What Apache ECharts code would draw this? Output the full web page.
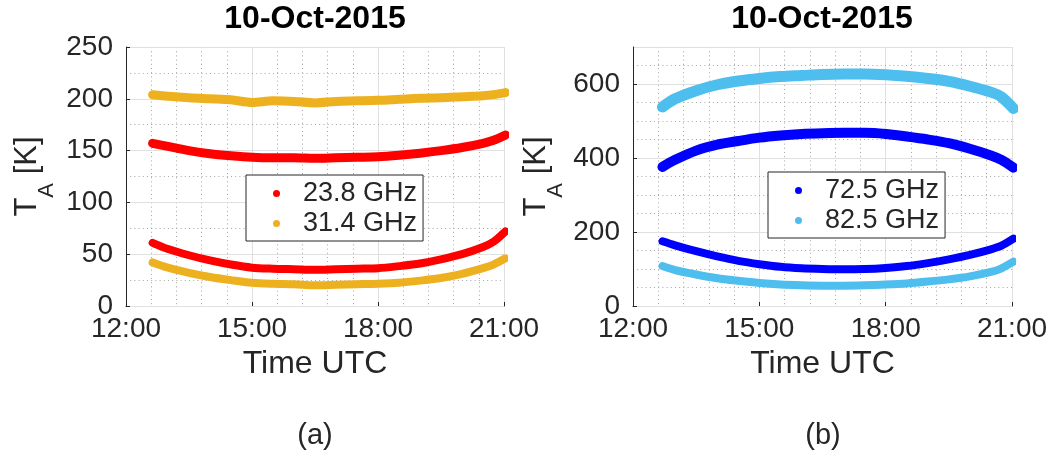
<!DOCTYPE html>
<html>
<head>
<meta charset="utf-8">
<title>10-Oct-2015 antenna temperatures</title>
<script src="https://cdn.jsdelivr.net/npm/echarts@6/dist/echarts.min.js"></script>
<style>
  html, body { margin: 0; padding: 0; background: #ffffff; }
  #chart { width: 1063px; height: 456px; }
</style>
</head>
<body>
<div id="chart"></div>
<script>
// Time-axis tick labels (UTC)
const xTickLabels = ['12:00', '15:00', '18:00', '21:00'];

// Panel (a): K-band channels, sampled along each observation arc
const timesA = ['12:38', '13:00', '13:30', '14:00', '14:30', '15:00', '15:30', '16:00', '16:30',
                '17:00', '17:30', '18:00', '18:30', '19:00', '19:30', '20:00', '20:30', '20:45', '21:02'];
const ta238High = [157, 154, 150, 147, 145, 143.5, 143, 143, 142.5, 143, 143.5, 144, 145.5, 147.5, 150, 153, 157, 160, 165];
const ta238Low  = [61, 55, 49, 44, 40, 37, 36, 35.5, 35, 35.5, 36, 36.5, 38.5, 41, 45, 50, 57, 62, 72];
const ta314High = [204, 202.5, 201, 200, 199, 196.5, 198, 197.5, 196, 197.5, 198, 198.5, 199.5, 200.5, 201, 202, 203, 204, 206];
const ta314Low  = [42, 37, 32, 28, 25, 22.5, 21.5, 21, 20, 20.5, 21, 21.5, 22.5, 24.5, 27, 31, 36.5, 40, 46];

// Panel (b): W-band channels
const timesB = ['12:42', '13:00', '13:30', '14:00', '14:30', '15:00', '15:30', '16:00', '16:30',
                '17:00', '17:30', '18:00', '18:30', '19:00', '19:30', '20:00', '20:30', '20:45', '21:02'];
const ta725High = [376, 395, 420, 436, 446, 455, 461, 465, 467, 468, 468, 465, 458, 450, 440, 425, 407, 395, 374];
const ta725Low  = [175, 164, 148, 134, 122, 113, 106, 102, 100, 99, 100, 103, 108, 116, 126, 138, 153, 163, 182];
const ta825High = [538, 560, 582, 598, 608, 615, 620, 623, 626, 627, 627, 625, 621, 615, 607, 594, 578, 565, 534];
const ta825Low  = [108, 97, 85, 75, 68, 62, 58, 56, 55, 55, 56, 58, 61, 66, 72, 80, 92, 102, 120];

const chartTitle = '10-Oct-2015';
const panelLabels = ['(a)', '(b)'];

const FONT = '"Liberation Sans", Arial, Helvetica, sans-serif';
const INK = '#262626';
const COLORS = { c238: '#ff0000', c314: '#edb120', c725: '#0000ff', c825: '#4dbeee' };

function toHours(s) {
  const p = s.split(':').map(Number);
  return p[0] + p[1] / 60;
}
function hourLabel(v) {
  const h = Math.floor(v + 1e-9);
  const m = Math.round((v - h) * 60);
  return h + ':' + (m < 10 ? '0' + m : m);
}
function pairs(times, vals) {
  return times.map((t, i) => [toHours(t), vals[i]]);
}
function band(name, color, times, vals, axis, width) {
  return {
    type: 'line', name: name, xAxisIndex: axis, yAxisIndex: axis,
    data: pairs(times, vals),
    symbol: 'none', showSymbol: false, smooth: 0.3, clip: false, silent: true,
    itemStyle: { color: color },
    lineStyle: { color: color, width: width, cap: 'round', join: 'round' },
    z: 5
  };
}

const xMin = toHours(xTickLabels[0]);
const xMax = toHours(xTickLabels[xTickLabels.length - 1]);

function timeAxis(gridIndex) {
  return {
    type: 'value', gridIndex: gridIndex, min: xMin, max: xMax, interval: 3,
    name: 'Time UTC', nameLocation: 'middle', nameGap: 42, nameMoveOverlap: false,
    nameTextStyle: { fontFamily: FONT, fontSize: 32, color: INK },
    axisLine: { show: true, lineStyle: { color: INK, width: 1 } },
    axisTick: { show: true, inside: true, length: 4, lineStyle: { color: INK } },
    axisLabel: { fontFamily: FONT, fontSize: 28, color: INK, margin: 9, formatter: hourLabel },
    splitLine: { show: true, lineStyle: { color: '#e0e0e0', width: 1 } },
    minorTick: { show: false, splitNumber: 5 },
    minorSplitLine: { show: true, lineStyle: { color: '#a6a6a6', width: 1, type: [1, 3.2] } }
  };
}

// "T" with a lowered subscript "A", then the unit
const yName = '{t|T}{s|A}{t| [K]}';
const yNameStyle = {
  fontFamily: FONT, color: INK,
  rich: {
    t: { fontFamily: FONT, fontSize: 31, color: INK, lineHeight: 46, verticalAlign: 'top' },
    s: { fontFamily: FONT, fontSize: 22, color: INK, lineHeight: 46, verticalAlign: 'bottom' }
  }
};

function tempAxis(gridIndex, max, interval, minorSplit, gap) {
  return {
    type: 'value', gridIndex: gridIndex, min: 0, max: max, interval: interval,
    name: yName, nameLocation: 'middle', nameGap: gap, nameRotate: 90, nameMoveOverlap: false,
    nameTextStyle: yNameStyle,
    axisLine: { show: true, lineStyle: { color: INK, width: 1 } },
    axisTick: { show: true, inside: true, length: 4, lineStyle: { color: INK } },
    axisLabel: { fontFamily: FONT, fontSize: 28, color: INK, margin: 13, showMaxLabel: (max % interval === 0) },
    splitLine: { show: true, lineStyle: { color: '#e0e0e0', width: 1 } },
    minorTick: { show: false, splitNumber: minorSplit },
    minorSplitLine: { show: minorSplit > 1, lineStyle: { color: '#a6a6a6', width: 1, type: [1, 3.2] } },
    z: 2
  };
}

function legendBox(names, left, top) {
  return {
    data: names, orient: 'vertical', left: left, top: top,
    icon: 'circle', itemWidth: 7, itemHeight: 7, itemGap: 3,
    padding: [5, 6, 4, 27], borderColor: INK, borderWidth: 1, backgroundColor: '#ffffff',
    formatter: '{g| }{name}',
    textStyle: {
      fontFamily: FONT, fontSize: 27, color: INK, lineHeight: 27,
      rich: { g: { width: 18, fontSize: 27, lineHeight: 27 } }
    },
    selectedMode: false
  };
}

const option = {
  backgroundColor: '#ffffff',
  animation: false,
  textStyle: { fontFamily: FONT },
  grid: [
    { left: 126, top: 47, width: 378, height: 259 },
    { left: 633, top: 47, width: 379, height: 259 }
  ],
  xAxis: [timeAxis(0), timeAxis(1)],
  yAxis: [
    tempAxis(0, 250, 50, 2, 68),
    tempAxis(1, 700, 200, 1, 66),
    // dotted 50 K minor grid for panel (b), drawn beneath the major lines
    {
      type: 'value', gridIndex: 1, min: 0, max: 700, interval: 50, position: 'left',
      axisLine: { show: false }, axisTick: { show: false }, axisLabel: { show: false },
      splitLine: { show: true, lineStyle: { color: '#a6a6a6', width: 1, type: [1, 3.2] } },
      z: 1
    }
  ],
  legend: [
    legendBox(['23.8 GHz', '31.4 GHz'], 246, 175),
    legendBox(['72.5 GHz', '82.5 GHz'], 768, 172)
  ],
  graphic: [
    { type: 'text', x: 315, y: 19, style: { text: chartTitle, font: 'bold 32px ' + FONT, fill: '#000000', align: 'center', verticalAlign: 'middle' } },
    { type: 'text', x: 822, y: 19, style: { text: chartTitle, font: 'bold 32px ' + FONT, fill: '#000000', align: 'center', verticalAlign: 'middle' } },
    { type: 'text', x: 315, y: 436, style: { text: panelLabels[0], font: '29px ' + FONT, fill: INK, align: 'center', verticalAlign: 'middle' } },
    { type: 'text', x: 823, y: 436, style: { text: panelLabels[1], font: '29px ' + FONT, fill: INK, align: 'center', verticalAlign: 'middle' } }
  ],
  series: [
    band('31.4 GHz', COLORS.c314, timesA, ta314High, 0, 9),
    band('31.4 GHz', COLORS.c314, timesA, ta314Low, 0, 8),
    band('23.8 GHz', COLORS.c238, timesA, ta238High, 0, 9),
    band('23.8 GHz', COLORS.c238, timesA, ta238Low, 0, 8),
    band('82.5 GHz', COLORS.c825, timesB, ta825High, 1, 11),
    band('82.5 GHz', COLORS.c825, timesB, ta825Low, 1, 8),
    band('72.5 GHz', COLORS.c725, timesB, ta725High, 1, 10),
    band('72.5 GHz', COLORS.c725, timesB, ta725Low, 1, 8)
  ]
};

const chart = echarts.init(document.getElementById('chart'), null, { renderer: 'canvas' });
chart.setOption(option);
</script>
</body>
</html>
